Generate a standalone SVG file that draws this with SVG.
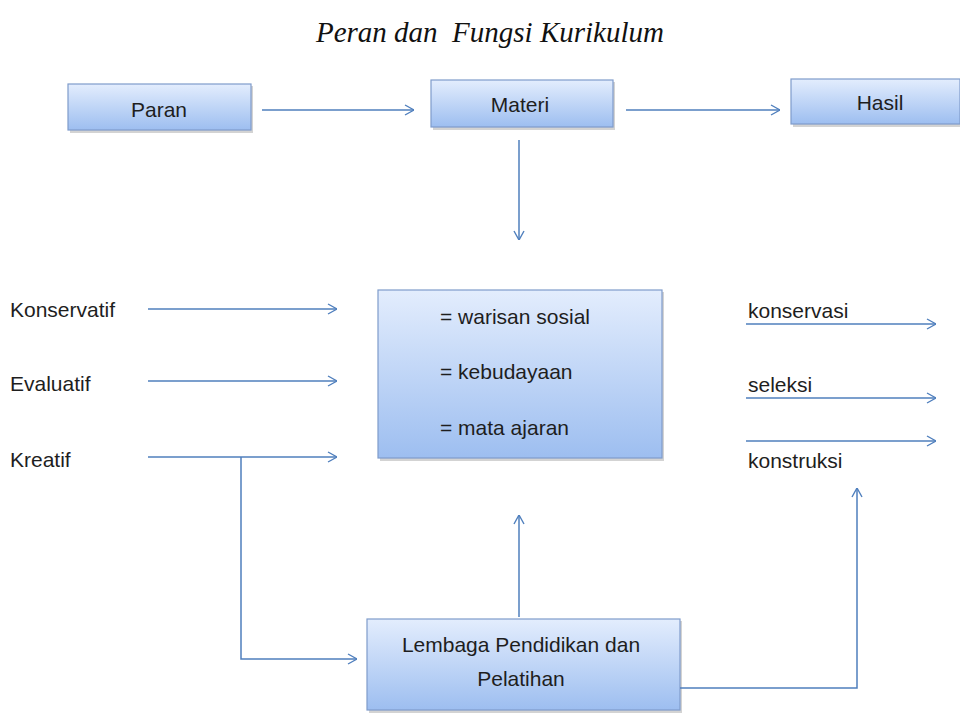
<svg xmlns="http://www.w3.org/2000/svg" width="960" height="713" viewBox="0 0 960 713">
<defs>
<linearGradient id="g" x1="0" y1="0" x2="0" y2="1">
<stop offset="0" stop-color="#e3edfd"/>
<stop offset="1" stop-color="#9dbef0"/>
</linearGradient>
<marker id="ar" viewBox="0 0 10 12" refX="10" refY="6" markerWidth="10" markerHeight="12" markerUnits="userSpaceOnUse" orient="auto">
<path d="M1,1 L10,6 L1,11" fill="none" stroke="#4f7fbd" stroke-width="1.4"/>
</marker>
</defs>
<style>
.box{fill:url(#g);stroke:#7f9ccb;stroke-width:1.2}
.sh{fill:#b5b5b5;opacity:0.6}
.t{font-family:"Liberation Sans",Arial,sans-serif;font-size:21px;fill:#1e1e1e}
.c{stroke:#4f7fbd;stroke-width:1.5;fill:none}
.a{marker-end:url(#ar)}
</style>
<rect width="960" height="713" fill="#ffffff"/>
<text x="490" y="42" text-anchor="middle" font-family="Liberation Serif,serif" font-style="italic" font-size="29" fill="#111" xml:space="preserve">Peran dan  Fungsi Kurikulum</text>
<g id="paran">
<rect class="sh" x="70" y="86" width="183" height="47"/>
<rect class="box" x="68" y="84" width="183" height="46"/>
<text class="t" x="159" y="117" text-anchor="middle">Paran</text>
</g>
<g id="materi">
<rect class="sh" x="433" y="82" width="182" height="48"/>
<rect class="box" x="431" y="80" width="182" height="47"/>
<text class="t" x="520" y="112" text-anchor="middle">Materi</text>
</g>
<g id="hasil">
<rect class="sh" x="793" y="81" width="169" height="46"/>
<rect class="box" x="791" y="79" width="169" height="45"/>
<text class="t" x="880" y="110" text-anchor="middle">Hasil</text>
</g>
<g id="isi">
<rect class="sh" x="380" y="292" width="284" height="169"/>
<rect class="box" x="378" y="290" width="284" height="168"/>
<text class="t" x="440" y="324">= warisan sosial</text>
<text class="t" x="440" y="379">= kebudayaan</text>
<text class="t" x="440" y="435">= mata ajaran</text>
</g>
<g id="lembaga">
<rect class="sh" x="369" y="621" width="313" height="92"/>
<rect class="box" x="367" y="619" width="313" height="91"/>
<text class="t" x="521" y="652" text-anchor="middle">Lembaga Pendidikan dan</text>
<text class="t" x="521" y="686" text-anchor="middle">Pelatihan</text>
</g>
<g id="labels">
<text class="t" x="10" y="317">Konservatif</text>
<text class="t" x="10" y="391">Evaluatif</text>
<text class="t" x="10" y="467">Kreatif</text>
<text class="t" x="748" y="318">konservasi</text>
<text class="t" x="748" y="392">seleksi</text>
<text class="t" x="748" y="468">konstruksi</text>
</g>
<g id="connectors">
<line class="c a" x1="262" y1="110" x2="414" y2="110"/>
<line class="c a" x1="626" y1="110" x2="780" y2="110"/>
<line class="c a" x1="519" y1="140" x2="519" y2="240"/>
<line class="c a" x1="148" y1="309" x2="337" y2="309"/>
<line class="c a" x1="148" y1="381" x2="337" y2="381"/>
<line class="c a" x1="148" y1="457" x2="337" y2="457"/>
<polyline class="c a" points="241,457 241,659 357,659"/>
<line class="c a" x1="519" y1="617" x2="519" y2="515"/>
<polyline class="c a" points="680,688 857,688 857,488"/>
<line class="c a" x1="746" y1="324" x2="936" y2="324"/>
<line class="c a" x1="746" y1="398" x2="936" y2="398"/>
<line class="c a" x1="746" y1="441" x2="936" y2="441"/>
</g>
</svg>
